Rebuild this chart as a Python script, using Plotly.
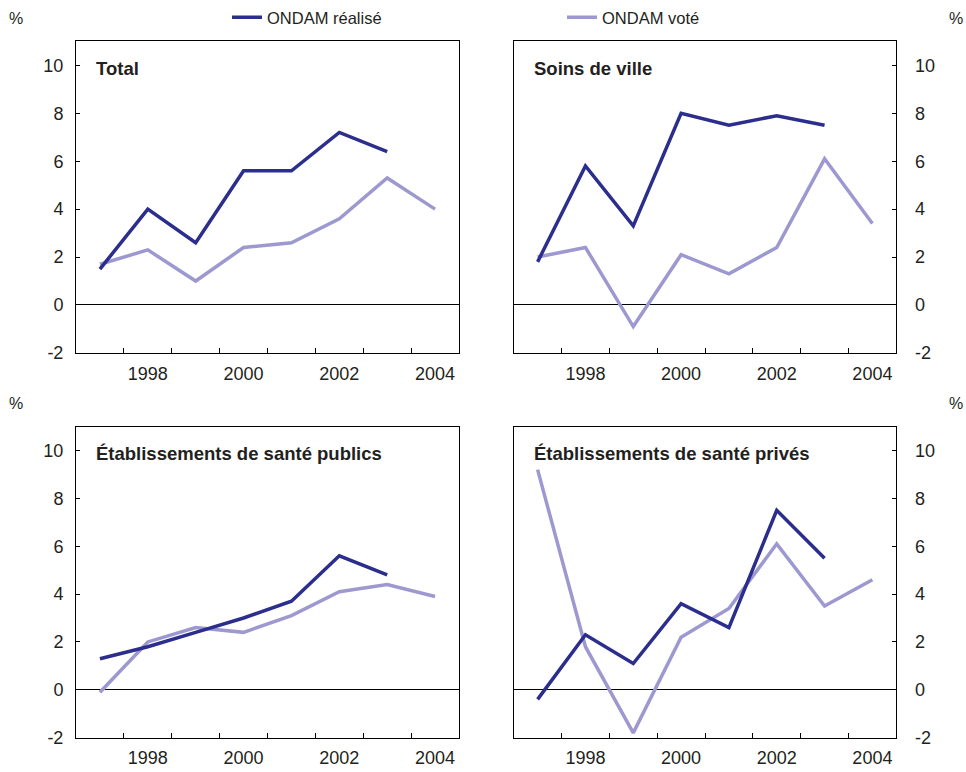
import plotly.graph_objects as go

# Years covered by the ONDAM series
years = [1997, 1998, 1999, 2000, 2001, 2002, 2003, 2004]

# Growth rates (%) per sector: realised (to 2003) and voted objective (to 2004)
total_realise = [1.5, 4.0, 2.6, 5.6, 5.6, 7.2, 6.4]
total_vote = [1.7, 2.3, 1.0, 2.4, 2.6, 3.6, 5.3, 4.0]

ville_realise = [1.8, 5.8, 3.3, 8.0, 7.5, 7.9, 7.5]
ville_vote = [2.0, 2.4, -0.9, 2.1, 1.3, 2.4, 6.1, 3.4]

publics_realise = [1.3, 1.8, 2.4, 3.0, 3.7, 5.6, 4.8]
publics_vote = [-0.1, 2.0, 2.6, 2.4, 3.1, 4.1, 4.4, 3.9]

prives_realise = [-0.4, 2.3, 1.1, 3.6, 2.6, 7.5, 5.5]
prives_vote = [9.2, 1.8, -1.8, 2.2, 3.4, 6.1, 3.5, 4.6]

panel_titles = ["Total", "Soins de ville",
                "Établissements de santé publics", "Établissements de santé privés"]
series_names = ["ONDAM réalisé", "ONDAM voté"]
x_tick_years = [1998, 2000, 2002, 2004]
y_ticks = [-2, 0, 2, 4, 6, 8, 10]
y_tick_text = ["-2", "0", "2", "4", "6", "8", "10"]

DARK = "#2b2e8c"
LIGHT = "#9d99d0"
TEXT = "#231f20"
FONT = "Liberation Sans, Arial, sans-serif"
W, H = 966, 772

panels = [
    (total_realise, total_vote),
    (ville_realise, ville_vote),
    (publics_realise, publics_vote),
    (prives_realise, prives_vote),
]

# Panel frames in pixels: (left, right, top, bottom)
frames = [
    (76, 459, 41, 357),
    (513.7, 896.3, 41, 357),
    (76, 459, 431.7, 747.3),
    (513.7, 896.3, 431.7, 747.3),
]

fig = go.Figure()
layout = {}

for i, ((real, vote), (l, r, t, b)) in enumerate(zip(panels, frames), start=1):
    suffix = "" if i == 1 else str(i)
    xa, ya = "x" + suffix, "y" + suffix
    right_side = i in (2, 4)

    fig.add_trace(go.Scatter(
        x=years[:len(vote)], y=vote, xaxis=xa, yaxis=ya, mode="lines",
        line=dict(color=LIGHT, width=3.5), name=series_names[1],
        legendgroup="vote", showlegend=(i == 1), hoverinfo="x+y"))
    fig.add_trace(go.Scatter(
        x=years[:len(real)], y=real, xaxis=xa, yaxis=ya, mode="lines",
        line=dict(color=DARK, width=3.5), name=series_names[0],
        legendgroup="realise", showlegend=(i == 1), hoverinfo="x+y"))

    layout["xaxis" + suffix] = dict(
        domain=[l / W, r / W], anchor=ya, range=[1996.5, 2004.5],
        tickmode="array", tickvals=x_tick_years,
        ticktext=[str(v) for v in x_tick_years], ticks="",
        ticklabelstandoff=4,
        minor=dict(tickmode="array", tickvals=[y + 0.5 for y in years[:-1]],
                   ticks="inside", ticklen=5, tickcolor="black", tickwidth=1),
        showline=True, linecolor="black", linewidth=1, mirror=True,
        showgrid=False, zeroline=False,
        tickfont=dict(family=FONT, size=18, color=TEXT),
        fixedrange=True)
    layout["yaxis" + suffix] = dict(
        domain=[1 - b / H, 1 - t / H], anchor=xa, range=[-2, 11],
        side="right" if right_side else "left",
        tickmode="array", tickvals=y_ticks, ticktext=y_tick_text,
        ticks="inside", ticklen=4, tickcolor="black", tickwidth=1,
        ticklabelstandoff=14 if right_side else 8,
        showline=True, linecolor="black", linewidth=1, mirror=True,
        showgrid=False, zeroline=True, zerolinecolor="black", zerolinewidth=1,
        tickfont=dict(family=FONT, size=18, color=TEXT),
        fixedrange=True)

annotations = []
# Panel titles
for (l, r, t, b), title in zip(frames, panel_titles):
    annotations.append(dict(
        x=(l + 18) / W, y=1 - (t + 27) / H, xref="paper", yref="paper",
        text="<b>" + title + "</b>", showarrow=False, xanchor="left",
        yanchor="middle", font=dict(family=FONT, size=18.5, color=TEXT)))
# Unit labels
for px, py in [(16, 18), (956, 18), (16, 408), (956, 408)]:
    annotations.append(dict(
        x=px / W, y=1 - py / H, xref="paper", yref="paper", text="%",
        showarrow=False, xanchor="center", yanchor="middle",
        font=dict(family=FONT, size=16, color=TEXT)))

fig.update_layout(
    width=W, height=H,
    margin=dict(l=0, r=0, t=0, b=0),
    paper_bgcolor="white", plot_bgcolor="white",
    font=dict(family=FONT, color=TEXT),
    showlegend=True,
    legend=dict(orientation="h", x=227 / W, y=1 + 1 / H,
                xanchor="left", yanchor="top",
                entrywidth=290, entrywidthmode="pixels",
                traceorder="reversed",
                font=dict(family=FONT, size=16.5, color=TEXT),
                bgcolor="rgba(0,0,0,0)", borderwidth=0),
    annotations=annotations,
    **layout,
)

fig.write_html("out.html")
